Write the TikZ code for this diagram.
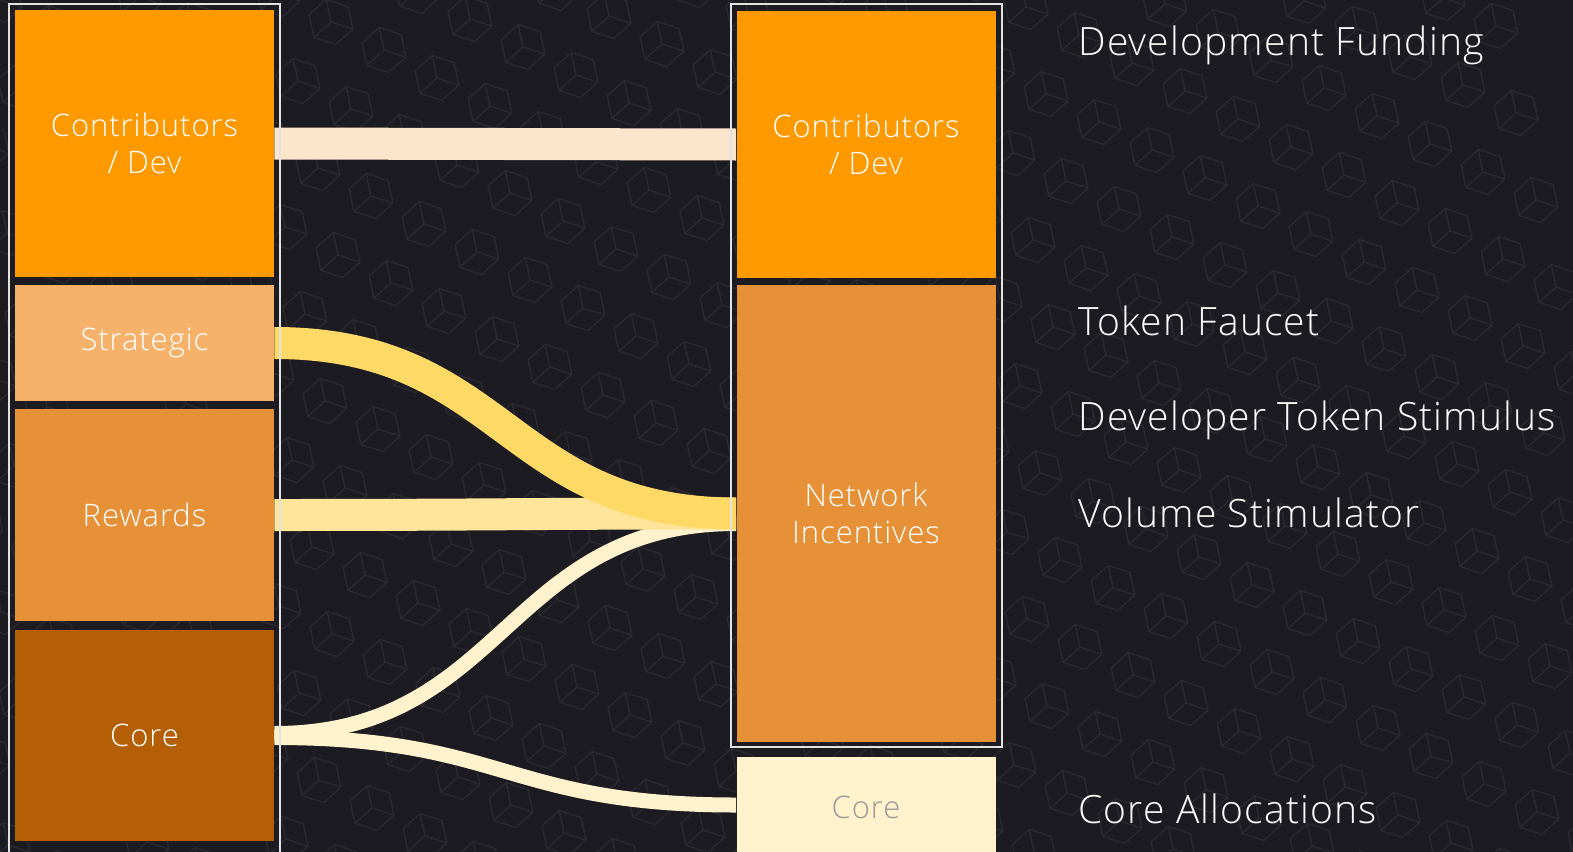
\documentclass[tikz,border=0pt]{standalone}
\usepackage{fontspec}
\setmainfont{Open Sans Light}[LetterSpace=3]
\usetikzlibrary{positioning}

\definecolor{bgdark}{HTML}{1C1B21}
\definecolor{cubegray}{HTML}{2A2930}
\definecolor{devorange}{HTML}{FF9900}
\definecolor{stratorange}{HTML}{F6B26B}
\definecolor{reworange}{HTML}{E69138}
\definecolor{corebrown}{HTML}{B45F06}
\definecolor{corecream}{HTML}{FFF2CC}
\definecolor{devflow}{HTML}{FCE5CD}
\definecolor{stratflow}{HTML}{FFD966}
\definecolor{rewflow}{HTML}{FFE599}
\definecolor{framegray}{HTML}{E2E2E2}

\tikzset{
  cubepat/.pic={
    \draw[cubegray, line width=0.7pt, rotate=12] (90:11.5pt) -- (150:11.5pt) -- (210:11.5pt) -- (270:11.5pt) -- (330:11.5pt) -- (30:11.5pt) -- cycle
      (0,0) -- (90:11.5pt) (0,0) -- (210:11.5pt) (0,0) -- (330:11.5pt);
  }
}

\begin{document}
\begin{tikzpicture}[x=0.5pt, y=-0.5pt,
  blk/.style={rectangle, inner sep=0pt, minimum width=129.5pt, text=white, align=center,
    font=\fontsize{15.5}{18.5}\selectfont},
  flow/.style={line width=16pt},
  thinflow/.style={line width=7.5pt, draw=corecream},
  sidelabel/.style={anchor=base west, text=white, inner sep=0pt, font=\fontsize{19.5}{22}\selectfont},
  selframe/.style={draw=framegray, line width=1pt}]

\useasboundingbox (0,0) rectangle (1573,851);
\fill[bgdark] (-20,-20) rectangle (1593,871);

% background cubes
\foreach \i in {-12,...,32}
  \foreach \j in {-12,...,12}
    \pic at ({53*\i+20*\j},{28*\i+87*\j}) {cubepat};

% left column
\node[blk, fill=devorange, minimum height=133.5pt] (lcontrib) at (144.5,143.5) {Contributors\\/ Dev};
\node[blk, fill=stratorange, minimum height=58pt] (lstrat) at (144.5,343) {Strategic};
\node[blk, fill=reworange, minimum height=106pt] (lrew) at (144.5,515) {Rewards};
\node[blk, fill=corebrown, minimum height=105.5pt] (lcore) at (144.5,735.5) {Core};

% right column
\node[blk, fill=devorange, minimum height=133.5pt] (rcontrib) at (866,144.5) {Contributors\\/ Dev};
\node[blk, fill=reworange, minimum height=228.5pt] (ninc) at (866,513.5) {Network\\Incentives};
\node[blk, fill=corecream, text=black!40, minimum height=50pt] (rcore) at (866,807) {Core};

% flows
\draw[thinflow] ([yshift=-1pt]lcore.east) .. controls +(230,0) and +(-230,0) .. ([yshift=1pt]rcore.west);
\draw[thinflow] ([yshift=1pt]lcore.east) .. controls +(230,0) and +(-230,0) .. ([yshift=-5pt]ninc.west);
\draw[flow, rewflow] (lrew.east) .. controls +(230,0) and +(-230,0) .. (ninc.west);
\draw[flow, stratflow] (lstrat.east) .. controls +(230,0) and +(-230,0) .. (ninc.west);
\draw[flow, devflow] (lcontrib.east) -- (rcontrib.west);

% selection frames
\draw[selframe] (8.5,3.5) rectangle (279.5,870);
\draw[selframe] (730.5,3.5) rectangle (1001.5,746.5);

% side labels
\node[sidelabel] (devfund) at (1078,55) {Development Funding};
\node[sidelabel] (faucet) at (1078,335) {Token Faucet};
\node[sidelabel] (stimulus) at (1078,430) {Developer Token Stimulus};
\node[sidelabel] (volume) at (1078,527) {Volume Stimulator};
\node[sidelabel] (coreall) at (1078,823) {Core Allocations};

\end{tikzpicture}
\end{document}
